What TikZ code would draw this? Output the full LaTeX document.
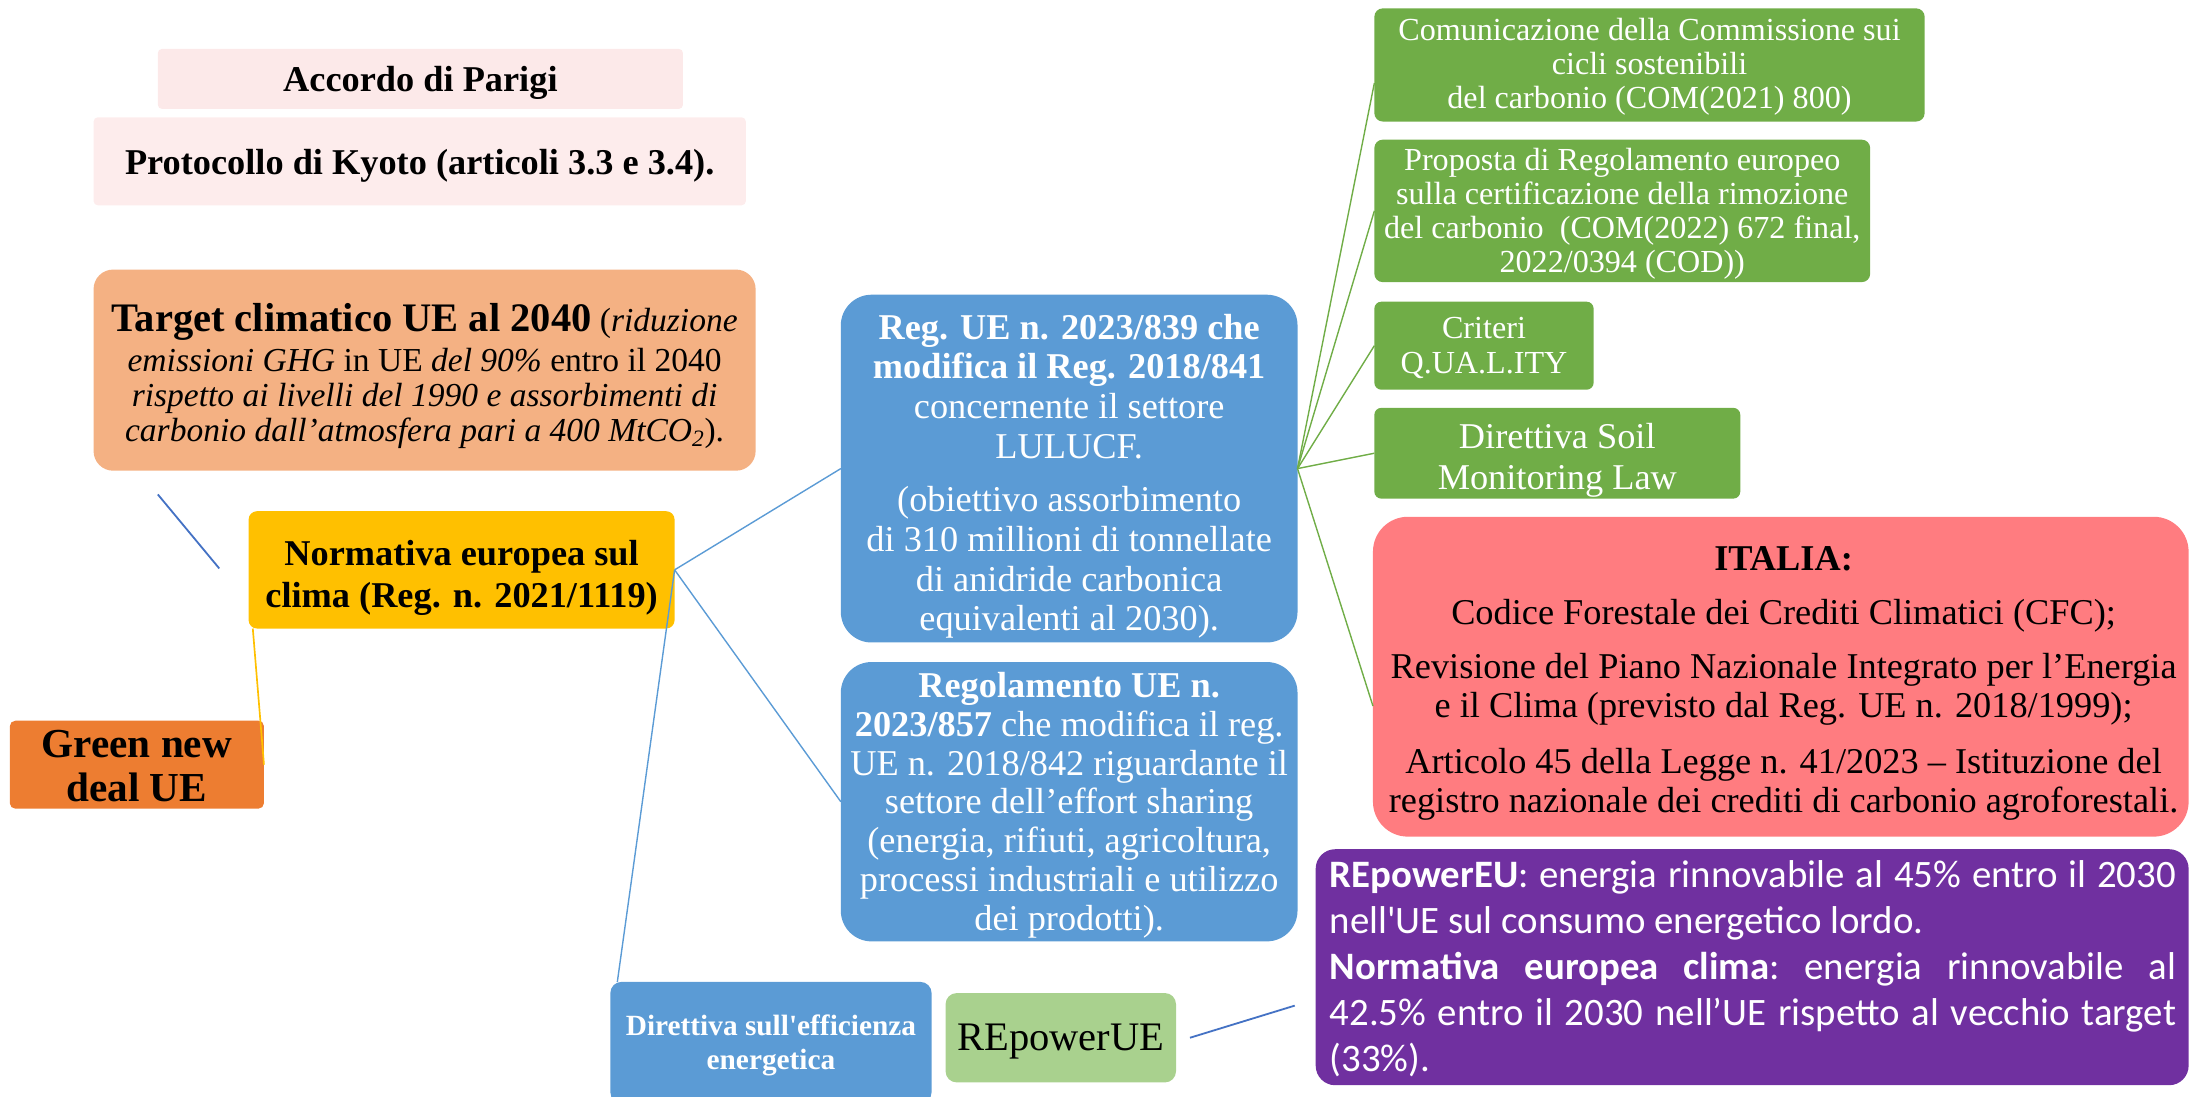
\documentclass[tikz,border=0pt]{standalone}
\usepackage{fontspec}
\setmainfont{Liberation Serif}
\newfontfamily\calibri{Carlito}
\definecolor{pinkA}{HTML}{FCE9E9}
\definecolor{pinkB}{HTML}{FDECEC}
\definecolor{orangeL}{HTML}{F4B183}
\definecolor{gold}{HTML}{FFC000}
\definecolor{orangeD}{HTML}{ED7D31}
\definecolor{blueA}{HTML}{5B9BD5}
\definecolor{blueD}{HTML}{4472C4}
\definecolor{greenA}{HTML}{70AD47}
\definecolor{greenL}{HTML}{A9D18E}
\definecolor{redA}{HTML}{FF7C80}
\definecolor{purpleA}{HTML}{7030A0}
\begin{document}
\begin{tikzpicture}[x=1pt,y=-1pt,
  bx/.style={rectangle, inner sep=0pt, outer sep=0pt},
  lbl/.style={inner sep=0pt, align=center},
  bluel/.style={draw=blueA, line width=1pt},
  greenl/.style={draw=greenA, line width=1pt},
  darkl/.style={draw=blueD, line width=1.3pt},
  yell/.style={draw=gold, line width=1.2pt},
  ]
\useasboundingbox (0,0) rectangle (1568,785);

% ---------- boxes ----------
\node[bx, fill=pinkA, minimum width=376pt, minimum height=43pt, rounded corners=3pt] (accordo) at (301,56.5) {};
\node[bx, fill=pinkB, minimum width=467pt, minimum height=63pt, rounded corners=3pt] (kyoto) at (300.5,115.5) {};
\node[bx, fill=orangeL, minimum width=474pt, minimum height=144pt, rounded corners=14pt] (target) at (304,265) {};
\node[bx, fill=gold, minimum width=305pt, minimum height=84pt, rounded corners=6pt] (norm) at (330.5,408) {};
\node[bx, fill=orangeD, minimum width=182pt, minimum height=63pt, rounded corners=4pt] (gnd) at (98,547.5) {};
\node[bx, fill=blueA, minimum width=327pt, minimum height=249pt, rounded corners=22pt] (reg) at (765.5,335.5) {};
\node[bx, fill=blueA, minimum width=327pt, minimum height=200pt, rounded corners=22pt] (regol) at (765.5,574) {};
\node[bx, fill=blueA, minimum width=230pt, minimum height=87pt, rounded corners=8pt] (dir) at (552,746.5) {};
\node[bx, fill=greenL, minimum width=165pt, minimum height=64pt, rounded corners=8pt] (rep) at (759.5,743) {};
\node[bx, fill=greenA, minimum width=394pt, minimum height=81pt, rounded corners=6pt] (com) at (1181,46.5) {};
\node[bx, fill=greenA, minimum width=355pt, minimum height=102pt, rounded corners=6pt] (prop) at (1161.5,151) {};
\node[bx, fill=greenA, minimum width=157pt, minimum height=63pt, rounded corners=5pt] (crit) at (1062.5,247.5) {};
\node[bx, fill=greenA, minimum width=262pt, minimum height=65pt, rounded corners=5pt] (soil) at (1115,324.5) {};
\node[bx, fill=redA, minimum width=584pt, minimum height=229pt, rounded corners=25pt] (ital) at (1275,484.5) {};
\node[bx, fill=purpleA, minimum width=625pt, minimum height=169pt, rounded corners=14pt] (purp) at (1254.5,692.5) {};

% ---------- texts ----------
\node[lbl, font=\fontsize{26}{28}\selectfont\bfseries] (accordoT) at ([yshift=-3pt]accordo.center) {Accordo di Parigi};
\node[lbl, font=\fontsize{26}{28}\selectfont\bfseries] (kyotoT) at ([yshift=-3pt]kyoto.center) {Protocollo di Kyoto (articoli 3.3 e 3.4).};
\node[lbl, font=\fontsize{24}{25}\selectfont] (targetT) at ([yshift=-4pt]target.center)
  {{\fontsize{29}{30}\selectfont\bfseries Target climatico UE al 2040} (\textit{riduzione}\\[4pt]
   \textit{emissioni GHG} in UE \textit{del 90\%} entro il 2040\\
   \textit{rispetto ai livelli del 1990 e assorbimenti di}\\
   \textit{carbonio dall’atmosfera pari a 400 MtCO\textsubscript{2}}).};
\node[lbl, font=\fontsize{26}{30}\selectfont\bfseries] (normT) at ([yshift=-5.5pt]norm.center)
  {Normativa europea sul\\clima (Reg. n. 2021/1119)};
\node[lbl, font=\fontsize{29.5}{32}\selectfont\bfseries] (gndT) at ([yshift=-1pt]gnd.center)
  {Green new\\deal UE};
\node[lbl, text=white, font=\fontsize{26}{28.5}\selectfont] (regT) at ([yshift=-5.5pt]reg.center)
  {\textbf{Reg. UE n. 2023/839 che}\\
   \textbf{modifica il Reg. 2018/841}\\
   concernente il settore\\
   LULUCF.\\[9.5pt]
   (obiettivo assorbimento\\
   di 310 millioni di tonnellate\\
   di anidride carbonica\\
   equivalenti al 2030).};
\node[lbl, text=white, font=\fontsize{26}{27.8}\selectfont] (regolT) at ([yshift=-2.5pt]regol.center)
  {\textbf{Regolamento UE n.}\\
   \textbf{2023/857} che modifica il reg.\\
   UE n. 2018/842 riguardante il\\
   settore dell’effort sharing\\
   (energia, rifiuti, agricoltura,\\
   processi industriali e utilizzo\\
   dei prodotti).};
\node[lbl, text=white, font=\fontsize{21}{24}\selectfont\bfseries] (dirT) at ([yshift=-2pt]dir.center)
  {Direttiva sull\textquotesingle efficienza\\energetica};
\node[lbl, font=\fontsize{29}{30}\selectfont] (repT) at ([yshift=-3pt]rep.center) {REpowerUE};
\node[lbl, text=white, font=\fontsize{23}{24.5}\selectfont] (comT) at ([yshift=-1.5pt]com.center)
  {Comunicazione della Commissione sui\\cicli sostenibili\\del carbonio (COM(2021) 800)};
\node[lbl, text=white, font=\fontsize{23}{24.3}\selectfont] (propT) at ([yshift=-2pt]prop.center)
  {Proposta di Regolamento europeo\\sulla certificazione della rimozione\\del carbonio\ \ (COM(2022) 672 final,\\2022/0394 (COD))};
\node[lbl, text=white, font=\fontsize{23}{25}\selectfont] (critT) at ([yshift=-1.5pt]crit.center)
  {Criteri\\Q.UA.L.ITY};
\node[lbl, text=white, font=\fontsize{26}{29}\selectfont] (soilT) at ([yshift=-5pt]soil.center)
  {Direttiva Soil\\Monitoring Law};
\node[lbl, font=\fontsize{26}{28}\selectfont] (italT) at ([xshift=2pt,yshift=-5pt]ital.center)
  {\textbf{ITALIA:}\\[10pt]
   Codice Forestale dei Crediti Climatici (CFC);\\[11pt]
   Revisione del Piano Nazionale Integrato per l’Energia\\
   e il Clima (previsto dal Reg. UE n. 2018/1999);\\[12pt]
   Articolo 45 della Legge n. 41/2023 – Istituzione del\\
   registro nazionale dei crediti di carbonio agroforestali.};
\node[inner sep=0pt, text=white, text width=606pt, align=justify,
  font=\calibri\fontsize{27.8}{33}\selectfont\frenchspacing] (purpT) at ([xshift=0.5pt,yshift=-1pt]purp.center)
  {\textbf{REpowerEU}: energia rinnovabile al 45\% entro il 2030\linebreak
   nell\textquotesingle UE sul consumo energetico lordo.\\
   \textbf{Normativa europea clima}: energia rinnovabile al\linebreak
   42.5\% entro il 2030 nell’UE rispetto al vecchio target\linebreak
   (33\%).};

% ---------- connectors ----------
\draw[bluel] (norm.east) -- (reg.west);
\draw[bluel] (norm.east) -- (regol.west);
\draw[bluel] (norm.east) -- ([xshift=5pt]dir.north west);
\draw[yell] ([xshift=3pt]norm.south west) -- (gnd.east);
\draw[greenl] (reg.east) -- ([yshift=-13pt]com.west);
\draw[greenl] (reg.east) -- (prop.west);
\draw[greenl] (reg.east) -- (crit.west);
\draw[greenl] (reg.east) -- (soil.west);
\draw[greenl] (reg.east) -- ([yshift=-21pt]ital.west);
\coordinate (s1) at (113,354);
\coordinate (s2) at (157,407);
\draw[darkl] (s1) -- (s2);
\coordinate (r1) at ([xshift=10pt]rep.east);
\coordinate (r2) at (927,720);
\draw[darkl] (r1) -- (r2);
\end{tikzpicture}
\end{document}
